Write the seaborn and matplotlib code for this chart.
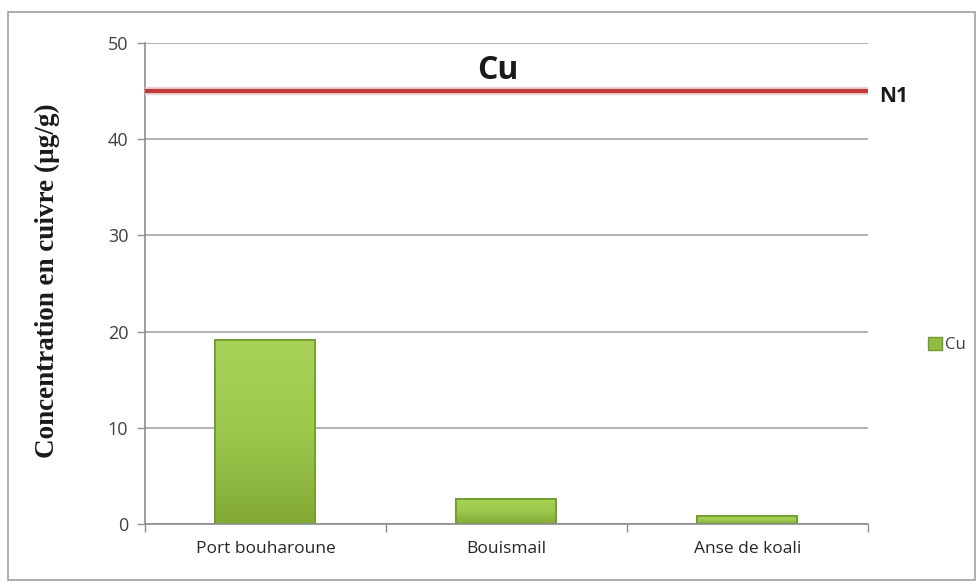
import matplotlib
matplotlib.use("Agg")
import matplotlib.pyplot as plt
import seaborn as sns
import pandas as pd
import numpy as np
from matplotlib.patches import Rectangle
from matplotlib.colors import LinearSegmentedColormap

sites = ["Port bouharoune", "Bouismail", "Anse de koali"]
cu_values = [19.1, 2.6, 0.8]
n1_value = 45
y_ticks = [0, 10, 20, 30, 40, 50]

df = pd.DataFrame({"site": sites, "Cu": cu_values})

sns.set_theme(style="white")
plt.rcParams['font.family'] = ['Open Sans', 'DejaVu Sans']

fig = plt.figure(figsize=(9.77, 5.85), dpi=100)
ax = fig.add_axes([0.1484, 0.1043, 0.7400, 0.8222])

sns.barplot(data=df, x="site", y="Cu", ax=ax, color="#93be45", width=0.415,
            edgecolor="#6e9a2e", linewidth=1.2, saturation=1)

ax.set_ylim(0, 50)
ax.set_xlim(-0.5, 2.5)

# gradient fill on the bars (style only)
grad = np.linspace(0, 1, 256).reshape(-1, 1)
cmap = LinearSegmentedColormap.from_list("g", ["#82aa36", "#9cc84c", "#a8d358"])
for p in list(ax.patches):
    x0, y0 = p.get_x(), p.get_y()
    w, h = p.get_width(), p.get_height()
    im = ax.imshow(grad, extent=[x0, x0 + w, y0, y0 + h], origin="lower", cmap=cmap,
                   aspect="auto", zorder=p.get_zorder() + 0.1)
    im.set_clip_path(p)
    ax.add_patch(Rectangle((x0, y0), w, h, fill=False, edgecolor="#6e9a2e",
                           linewidth=1.2, zorder=p.get_zorder() + 0.2))
ax.set_xlim(-0.5, 2.5)
ax.set_ylim(0, 50)
ax.set_aspect("auto")

ax.set_yticks(y_ticks)
ax.set_yticklabels([str(v) for v in y_ticks], fontsize=13, color="#404040")
ax.grid(axis="y", color="#a6a6a6", linewidth=1.2)
ax.set_axisbelow(True)

ax.tick_params(axis="y", which="major", direction="out", length=6, width=1, color="#8c8c8c", pad=6, left=True)
ax.set_xticks([0, 1, 2])
ax.set_xticklabels(sites, fontsize=12.5, color="#262626")
ax.set_xticks([-0.5, 0.5, 1.5, 2.5], minor=True)
ax.tick_params(axis="x", which="major", length=0, pad=12)
ax.tick_params(axis="x", which="minor", direction="out", length=6, width=1, color="#8c8c8c", bottom=True)

for s in ["top", "right"]:
    ax.spines[s].set_visible(False)
for s in ["left", "bottom"]:
    ax.spines[s].set_visible(True)
    ax.spines[s].set_color("#8c8c8c")
    ax.spines[s].set_linewidth(1.2)

ax.set_xlabel("")
ax.set_ylabel("Concentration en cuivre (µg/g)", fontsize=19.5, fontweight="bold",
              family=["Liberation Serif", "DejaVu Serif"], color="#1a1a1a")
ax.yaxis.set_label_coords(-0.118, 0.505)

# N1 line
ax.axhline(n1_value, color="#edd0d0", linewidth=6, zorder=3)
ax.axhline(n1_value, color="#c0393b", linewidth=3, zorder=4)
ax.text(1.016, n1_value - 0.6, "N1", transform=ax.get_yaxis_transform(), fontsize=15,
        fontweight="bold", va="center", ha="left", color="#1a1a1a")

# title
ax.text(0.488, 1 - 0.058, "Cu", transform=ax.transAxes, fontsize=23, fontweight="bold",
        ha="center", va="center", color="#1a1a1a")

# legend
handle = Rectangle((0, 0), 1, 1, facecolor="#93be45", edgecolor="#6e9a2e")
fig.legend([handle], ["Cu"], loc="center left", bbox_to_anchor=(0.935, 0.41),
           frameon=False, fontsize=12, handlelength=0.8, handleheight=0.8,
           handletextpad=0.2, labelcolor="#404040")

# outer border
fig.patches.append(Rectangle((0.008, 0.008), 0.99, 0.972, transform=fig.transFigure,
                             fill=False, edgecolor="#a0a0a0", linewidth=1.2))

fig.savefig("out.png", dpi=100)
